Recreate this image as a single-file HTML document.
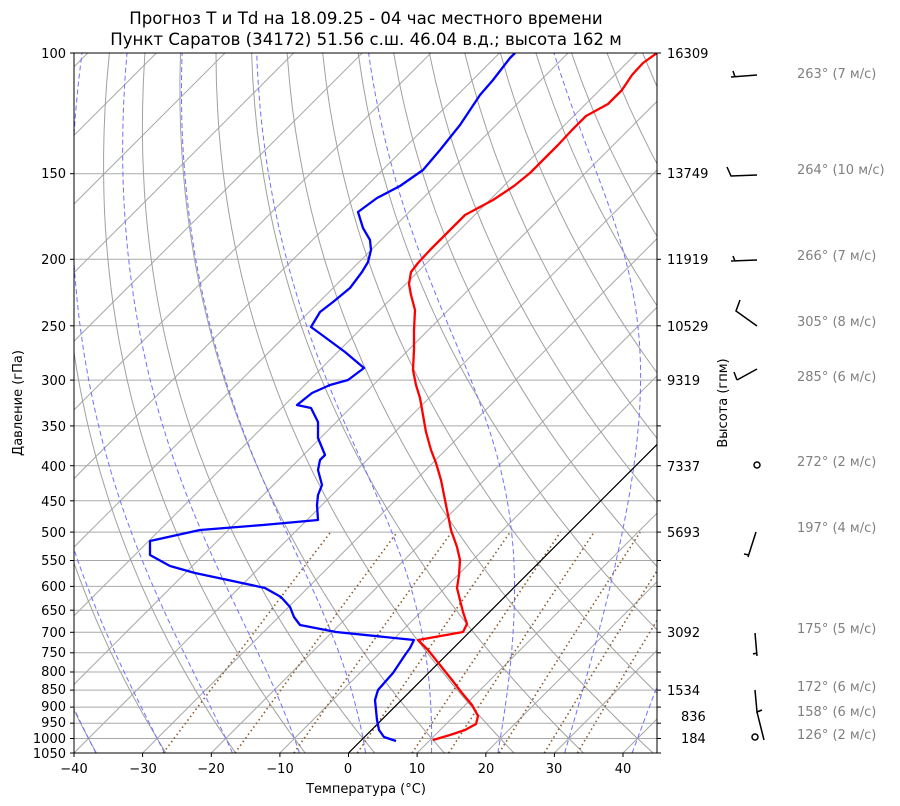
<!DOCTYPE html>
<html><head><meta charset="utf-8"><style>
body{margin:0;background:#fff;}
svg{display:block;font-family:"DejaVu Sans","Liberation Sans",sans-serif;}
</style></head><body>
<svg id="s" width="900" height="806" viewBox="0 0 900 806" xmlns="http://www.w3.org/2000/svg">
<defs><clipPath id="c"><rect x="74" y="53" width="583" height="700"/></clipPath></defs>
<rect width="900" height="806" fill="#fff"/>
<g id="bg" clip-path="url(#c)"></g>
<g clip-path="url(#c)" fill="none" stroke-width="2.3" stroke-linejoin="round">
<polyline stroke="#ff0000" points="433,740 450,735 465,730 476,724 478,716 472,705 462,693 452,680 440,665 428,650 418,640 463,632 467,624 463,612 460,600 457,588 459,575 460,560 457,547 451,530 448,515 445,500 441,480 436,463 431,450 426,432 423,415 420,398 416,385 413,370 414,350 414,330 415,310 411,295 409,284 411,272 418,263 430,250 448,232 465,215 493,200 514,186 530,173 545,158 558,145 572,130 586,116 608,104 622,90 632,75 643,63 657,53"/>
<polyline stroke="#0000ff" points="396,741 384,737 379,730 377,720 376,710 375,700 378,690 385,682 393,673 399,664 405,655 410,648 414,640 336,632 300,625 294,617 290,607 281,597 265,588 228,580 195,573 170,566 150,555 150,541 200,530 263,525 318,520 317,505 318,495 322,485 318,470 320,460 325,455 318,438 318,422 311,408 297,405 312,393 330,385 348,380 364,368 345,352 322,335 311,327 320,312 333,302 350,288 362,272 368,262 371,250 370,240 363,228 358,212 377,198 400,186 423,170 440,150 460,125 480,95 493,80 510,58 515,53"/>
</g>
<rect x="74" y="53" width="583" height="700" fill="none" stroke="#000" stroke-width="1"/>
<g id="ticks" stroke="#000" stroke-width="1"></g>
<g font-size="13" fill="#000" text-anchor="end">
<text x="66" y="58">100</text><text x="66" y="178">150</text><text x="66" y="264">200</text><text x="66" y="331">250</text><text x="66" y="385">300</text><text x="66" y="431">350</text><text x="66" y="471">400</text><text x="66" y="506">450</text><text x="66" y="537">500</text><text x="66" y="565">550</text><text x="66" y="591">600</text><text x="66" y="615">650</text><text x="66" y="637">700</text><text x="66" y="657">750</text><text x="66" y="676">800</text><text x="66" y="694">850</text><text x="66" y="711">900</text><text x="66" y="727">950</text><text x="66" y="743">1000</text><text x="66" y="758">1050</text>
</g>
<g font-size="13" fill="#000" text-anchor="start">
<text x="667" y="58">16309</text><text x="667" y="178">13749</text><text x="667" y="264">11919</text><text x="667" y="331">10529</text><text x="667" y="385">9319</text><text x="667" y="471">7337</text><text x="667" y="537">5693</text><text x="667" y="637">3092</text><text x="667" y="695">1534</text><text x="681" y="721">836</text><text x="681" y="743">184</text>
</g>
<g font-size="13" fill="#000" text-anchor="middle">
<text x="74" y="773">−40</text><text x="143" y="773">−30</text><text x="211" y="773">−20</text><text x="280" y="773">−10</text><text x="348" y="773">0</text><text x="417" y="773">10</text><text x="486" y="773">20</text><text x="554" y="773">30</text><text x="623" y="773">40</text>
<text x="366" y="793">Температура (°C)</text>
<text transform="translate(22,403) rotate(-90)">Давление (гПа)</text>
<text transform="translate(727,403) rotate(-90)">Высота (гпм)</text>
<text x="366" y="24" font-size="16.6">Прогноз T и Td на 18.09.25 - 04 час местного времени</text>
<text x="366" y="45" font-size="16.6">Пункт Саратов (34172) 51.56 с.ш. 46.04 в.д.; высота 162 м</text>
</g>
<g font-size="13" fill="#808080">
<text x="797" y="78">263° (7 м/с)</text><text x="797" y="174">264° (10 м/с)</text><text x="797" y="260">266° (7 м/с)</text><text x="797" y="326">305° (8 м/с)</text><text x="797" y="381">285° (6 м/с)</text><text x="797" y="466">272° (2 м/с)</text><text x="797" y="532">197° (4 м/с)</text><text x="797" y="633">175° (5 м/с)</text><text x="797" y="691">172° (6 м/с)</text><text x="797" y="716">158° (6 м/с)</text><text x="797" y="739">126° (2 м/с)</text>
</g>
<g stroke="#000" stroke-width="1.5" fill="none">
<path d="M731,77 L757,75 M733,71 L735,77"/>
<path d="M727,167 L731,176 L757,175"/>
<path d="M731,261 L757,260 M733,256 L735,261"/>
<path d="M740,300 L736,311 L757,326"/>
<path d="M737,380 L757,369 M734,372 L737,380"/>
<circle cx="757" cy="465" r="3"/>
<path d="M748,557 L756,532 M744,554 L749,555"/>
<path d="M755,633 L757,656 M753,654 L757,653"/>
<path d="M755,690 L757,712 L762,710"/>
<path d="M757,712 L764,740"/>
<circle cx="755" cy="737" r="3"/>
</g>
</svg>
<script>
(function(){
var NS="http://www.w3.org/2000/svg",bg=document.getElementById('bg'),tk=document.getElementById('ticks');
function Y(p){return 53+297.7*Math.log(p/100);}
function X(T,p){return 348.5+6.8625*T+(753-Y(p));}
function add(par,d,st,w,da){var e=document.createElementNS(NS,'path');e.setAttribute('d',d);e.setAttribute('fill','none');e.setAttribute('stroke',st);e.setAttribute('stroke-width',w);if(da)e.setAttribute('stroke-dasharray',da);par.appendChild(e);}
var ps=[100,150,200,250,300,350,400,450,500,550,600,650,700,750,800,850,900,950,1000,1050];
ps.forEach(function(p){var y=Y(p).toFixed(1);add(bg,'M74,'+y+'H657','#a9a9a9',1);add(tk,'M70,'+y+'H74',"#000",1);add(tk,'M657,'+y+'H661','#000',1);});
for(var T=-40;T<=40;T+=10){var x=(348.5+6.8625*T).toFixed(1);add(tk,'M'+x+',753V757','#000',1);}
for(var T=-160;T<=50;T+=10){add(bg,'M'+X(T,1050)+','+Y(1050)+'L'+X(T,100)+','+Y(100),'#a9a9a9',1);}
for(var th=-40;th<=260;th+=10){var d='';for(var p=1050;p>=100;p-=10){var t=(th+273.15)*Math.pow(p/1000,0.2857)-273.15;d+=(d?'L':'M')+X(t,p).toFixed(1)+','+Y(p).toFixed(1);}add(bg,d,'#a0a0a0',1);}
function es(t){return 6.112*Math.exp(17.67*t/(t+243.5));}
function g(t,p){var T=t+273.15,e=es(t),rs=0.622*e/(p-e);return (287*T+2.501e6*rs)/(1005+2.501e6*2.501e6*rs*0.622/(287*T*T))/p;}
for(var t0=-40;t0<=40;t0+=10){
 var t=t0,pts=[];for(var p=1000;p<1050;p+=1){t+=g(t,p)*1;}
 for(var p=1050;p>=100;p-=1){if(p%5==0)pts.push(X(t,p).toFixed(1)+','+Y(p).toFixed(1));t-=g(t,p)*1;}
 add(bg,'M'+pts.join('L'),'#7070ff',1,'5,3');}
[0.0004,0.001,0.002,0.004,0.007,0.01,0.016,0.024,0.032].forEach(function(w){var d='';for(var p=1050;p>=500;p-=10){var e=w*p/(0.622+w),l=Math.log(e/6.112),t=243.5*l/(17.67-l);d+=(d?'L':'M')+X(t,p).toFixed(1)+','+Y(p).toFixed(1);}add(bg,d,'#8b5a2b',1.6,'1.5,3');});
add(bg,'M'+X(0,1050)+','+Y(1050)+'L'+X(0,100)+','+Y(100),'#000',1.2);
})();
</script>
</body></html>
